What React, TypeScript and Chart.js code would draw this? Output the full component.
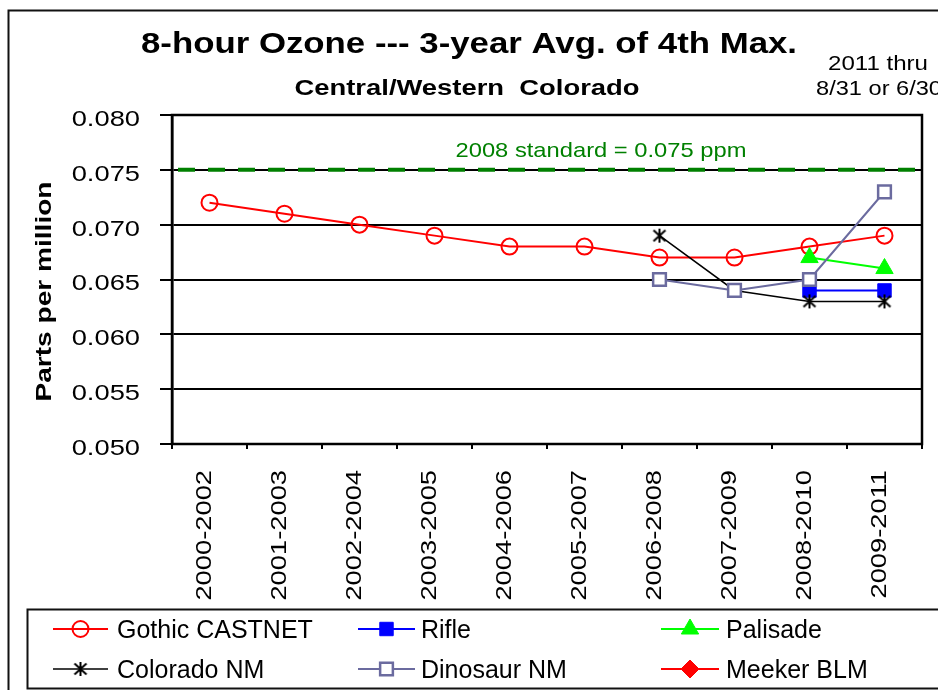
import React, { useEffect, useRef } from 'react';
import { Chart, registerables } from 'chart.js';
import { drawPoint } from 'chart.js/helpers';

Chart.register(...registerables);

// ---------- data ----------
const CATEGORIES = [
  '2000-2002', '2001-2003', '2002-2004', '2003-2005', '2004-2006',
  '2005-2007', '2006-2008', '2007-2009', '2008-2010', '2009-2011',
];
const GOTHIC_CASTNET = [0.072, 0.071, 0.070, 0.069, 0.068, 0.068, 0.067, 0.067, 0.068, 0.069];
const RIFLE = [null, null, null, null, null, null, null, null, 0.064, 0.064];
const PALISADE = [null, null, null, null, null, null, null, null, 0.067, 0.066];
const COLORADO_NM = [null, null, null, null, null, null, 0.069, 0.064, 0.063, 0.063];
const DINOSAUR_NM = [null, null, null, null, null, null, 0.065, 0.064, 0.065, 0.073];
const MEEKER_BLM: (number | null)[] = [null, null, null, null, null, null, null, null, null, null];

const STANDARD = 0.075;
const STANDARD_LABEL = '2008 standard = 0.075 ppm';
const Y_MIN = 0.05;
const Y_MAX = 0.08;
const Y_STEP = 0.005;

const TITLE = '8-hour Ozone --- 3-year Avg. of 4th Max.';
const SUBTITLE = 'Central/Western  Colorado';
const NOTE_1 = '2011 thru';
const NOTE_2 = '8/31 or 6/30';
const Y_TITLE = 'Parts per million';

const FONT = '"Liberation Sans", Arial, Helvetica, sans-serif';
const TICK_STRETCH = 1.27;

function makeAsterisk(): HTMLCanvasElement {
  const c = document.createElement('canvas');
  c.width = 16;
  c.height = 16;
  const g = c.getContext('2d')!;
  g.strokeStyle = '#000';
  g.lineWidth = 2;
  g.beginPath();
  g.moveTo(8, 1); g.lineTo(8, 15);
  g.moveTo(2, 2.5); g.lineTo(14, 13.5);
  g.moveTo(14, 2.5); g.lineTo(2, 13.5);
  g.stroke();
  return c;
}

function stretchText(
  ctx: CanvasRenderingContext2D, text: string, x: number, y: number,
  font: string, color: string, width: number, rotate = false
) {
  ctx.save();
  ctx.font = font;
  ctx.fillStyle = color;
  const w = ctx.measureText(text).width;
  const s = width / w;
  ctx.translate(x, y);
  if (rotate) ctx.rotate(-Math.PI / 2);
  ctx.scale(s, 1);
  ctx.textAlign = 'center';
  ctx.textBaseline = 'alphabetic';
  ctx.fillText(text, 0, 0);
  ctx.restore();
}

const decorPlugin = {
  id: 'decor',
  beforeDraw(chart: any) {
    // axis tick labels in the reference are drawn with horizontally widened glyphs
    const ctx = chart.ctx as any;
    const orig = CanvasRenderingContext2D.prototype.fillText;
    ctx.fillText = function (text: string, x: number, y: number) {
      this.save();
      this.translate(x, y);
      this.scale(TICK_STRETCH, 1);
      orig.call(this, text, 0, 0);
      this.restore();
    };
  },
  beforeDatasetsDraw(chart: any) {
    const ctx = chart.ctx as CanvasRenderingContext2D;
    delete (ctx as any).fillText;
    const { left, right, top, bottom } = chart.chartArea;
    // standard line
    const ys = chart.scales.y.getPixelForValue(STANDARD);
    ctx.save();
    ctx.strokeStyle = '#008000';
    ctx.lineWidth = 4;
    ctx.setLineDash([17, 13]);
    ctx.lineDashOffset = -6;
    ctx.beginPath();
    ctx.moveTo(left, ys);
    ctx.lineTo(right, ys);
    ctx.stroke();
    ctx.restore();
    // plot frame
    ctx.save();
    ctx.strokeStyle = '#000';
    ctx.lineWidth = 2.5;
    ctx.strokeRect(left, top, right - left, bottom - top);
    ctx.restore();
  },
  afterDraw(chart: any) {
    const ctx = chart.ctx as CanvasRenderingContext2D;
    delete (ctx as any).fillText;
    // outer border
    ctx.save();
    ctx.strokeStyle = '#111';
    ctx.lineWidth = 2;
    ctx.strokeRect(8.5, 10.5, 1000, 1000);
    // legend box
    ctx.strokeRect(27.5, 609.5, 1000, 79);
    ctx.restore();

    stretchText(ctx, TITLE, 469, 53, `bold 29.5px ${FONT}`, '#000', 656);
    stretchText(ctx, SUBTITLE, 467, 95, `bold 22px ${FONT}`, '#000', 345);
    stretchText(ctx, NOTE_1, 878, 70, `21px ${FONT}`, '#000', 100);
    stretchText(ctx, NOTE_2, 879, 95, `21px ${FONT}`, '#000', 126);
    stretchText(ctx, STANDARD_LABEL, 601, 157, `21px ${FONT}`, '#008000', 291);
    stretchText(ctx, Y_TITLE, 51, 291.5, `bold 22px ${FONT}`, '#000', 220, true);

    // legend
    const cols = [
      { lx0: 53, lx1: 108, tx: 117 },
      { lx0: 358, lx1: 415, tx: 421 },
      { lx0: 661, lx1: 719, tx: 726 },
    ];
    const rows = [629, 669];
    chart.data.datasets.forEach((ds: any, i: number) => {
      const c = cols[i % 3];
      const y = rows[Math.floor(i / 3)];
      ctx.save();
      ctx.strokeStyle = ds.borderColor;
      ctx.lineWidth = ds.borderWidth;
      ctx.beginPath();
      ctx.moveTo(c.lx0, y);
      ctx.lineTo(c.lx1, y);
      ctx.stroke();
      ctx.fillStyle = ds.pointBackgroundColor;
      ctx.strokeStyle = ds.pointBorderColor;
      ctx.lineWidth = ds.pointBorderWidth;
      drawPoint(ctx, {
        pointStyle: ds.pointStyle, radius: ds.pointRadius, rotation: 0,
        borderWidth: ds.pointBorderWidth,
      } as any, (c.lx0 + c.lx1) / 2, y);
      ctx.fillStyle = '#000';
      ctx.font = `25px ${FONT}`;
      ctx.textAlign = 'left';
      ctx.textBaseline = 'alphabetic';
      ctx.fillText(ds.label, c.tx, y + 9);
      ctx.restore();
    });
  },
};

export default function App() {
  const ref = useRef<HTMLCanvasElement>(null);
  useEffect(() => {
    const canvas = ref.current!;
    const asterisk = makeAsterisk();
    const chart = new Chart(canvas, {
      type: 'line',
      data: {
        labels: CATEGORIES,
        datasets: [
          {
            label: 'Gothic CASTNET', data: GOTHIC_CASTNET,
            borderColor: '#FF0000', borderWidth: 2,
            pointStyle: 'circle', pointRadius: 8, pointBorderWidth: 2,
            pointBorderColor: '#FF0000', pointBackgroundColor: 'rgba(0,0,0,0)',
            order: 6,
          },
          {
            label: 'Rifle', data: RIFLE,
            borderColor: '#0000FF', borderWidth: 2,
            pointStyle: 'rect', pointRadius: 9.5, pointBorderWidth: 1,
            pointBorderColor: '#0000FF', pointBackgroundColor: '#0000FF',
            order: 5,
          },
          {
            label: 'Palisade', data: PALISADE,
            borderColor: '#00FF00', borderWidth: 2,
            pointStyle: 'triangle', pointRadius: 10, pointBorderWidth: 1,
            pointBorderColor: '#00FF00', pointBackgroundColor: '#00FF00',
            order: 4,
          },
          {
            label: 'Colorado NM', data: COLORADO_NM,
            borderColor: '#000000', borderWidth: 1.5,
            pointStyle: asterisk, pointRadius: 8, pointBorderWidth: 2,
            pointBorderColor: '#000000', pointBackgroundColor: '#000000',
            order: 3,
          },
          {
            label: 'Dinosaur NM', data: DINOSAUR_NM,
            borderColor: '#6B6B9F', borderWidth: 2,
            pointStyle: 'rect', pointRadius: 9, pointBorderWidth: 2.5,
            pointBorderColor: '#6B6B9F', pointBackgroundColor: '#FFFFFF',
            order: 2,
          },
          {
            label: 'Meeker BLM', data: MEEKER_BLM,
            borderColor: '#FF0000', borderWidth: 2,
            pointStyle: 'rectRot', pointRadius: 9, pointBorderWidth: 1,
            pointBorderColor: '#FF0000', pointBackgroundColor: '#FF0000',
            order: 1,
          },
        ],
      },
      options: {
        responsive: false,
        animation: false,
        devicePixelRatio: 1,
        spanGaps: false,
        layout: { padding: { left: 0, top: 115, right: 16, bottom: 76 } },
        plugins: {
          legend: { display: false },
          title: { display: false },
          tooltip: { enabled: false },
        },
        scales: {
          x: {
            type: 'category',
            offset: true,
            grid: {
              offset: true, drawOnChartArea: false, drawTicks: true,
              tickLength: 5, color: '#000', lineWidth: 2,
            },
            border: { display: true, color: '#000', width: 2 },
            ticks: {
              color: '#000', font: { family: FONT, size: 21.5 },
              minRotation: 90, maxRotation: 90, autoSkip: false,
              padding: 21, labelOffset: -4,
            },
            afterFit(scale: any) {
              scale.height = 170;
              scale.paddingLeft = 0;
              scale.paddingRight = 0;
            },
          },
          y: {
            min: Y_MIN, max: Y_MAX,
            grid: { color: '#000', lineWidth: 2, drawTicks: true, tickLength: 12 },
            border: { display: true, color: '#000', width: 2.5 },
            ticks: {
              stepSize: Y_STEP, color: '#000',
              font: { family: FONT, size: 21.5 },
              padding: 20, labelOffset: 5,
              callback: (v: any) => Number(v).toFixed(3),
            },
            afterFit(scale: any) {
              scale.width = 172;
              scale.paddingTop = 0;
              scale.paddingBottom = 0;
            },
          },
        },
      },
      plugins: [decorPlugin],
    } as any);
    return () => chart.destroy();
  }, []);
  return (
    <div style={{ position: 'absolute', left: 0, top: 0, width: 938, height: 690, background: '#fff' }}>
      <canvas ref={ref} width={938} height={690} style={{ display: 'block', width: '938px', height: '690px' }} />
    </div>
  );
}
